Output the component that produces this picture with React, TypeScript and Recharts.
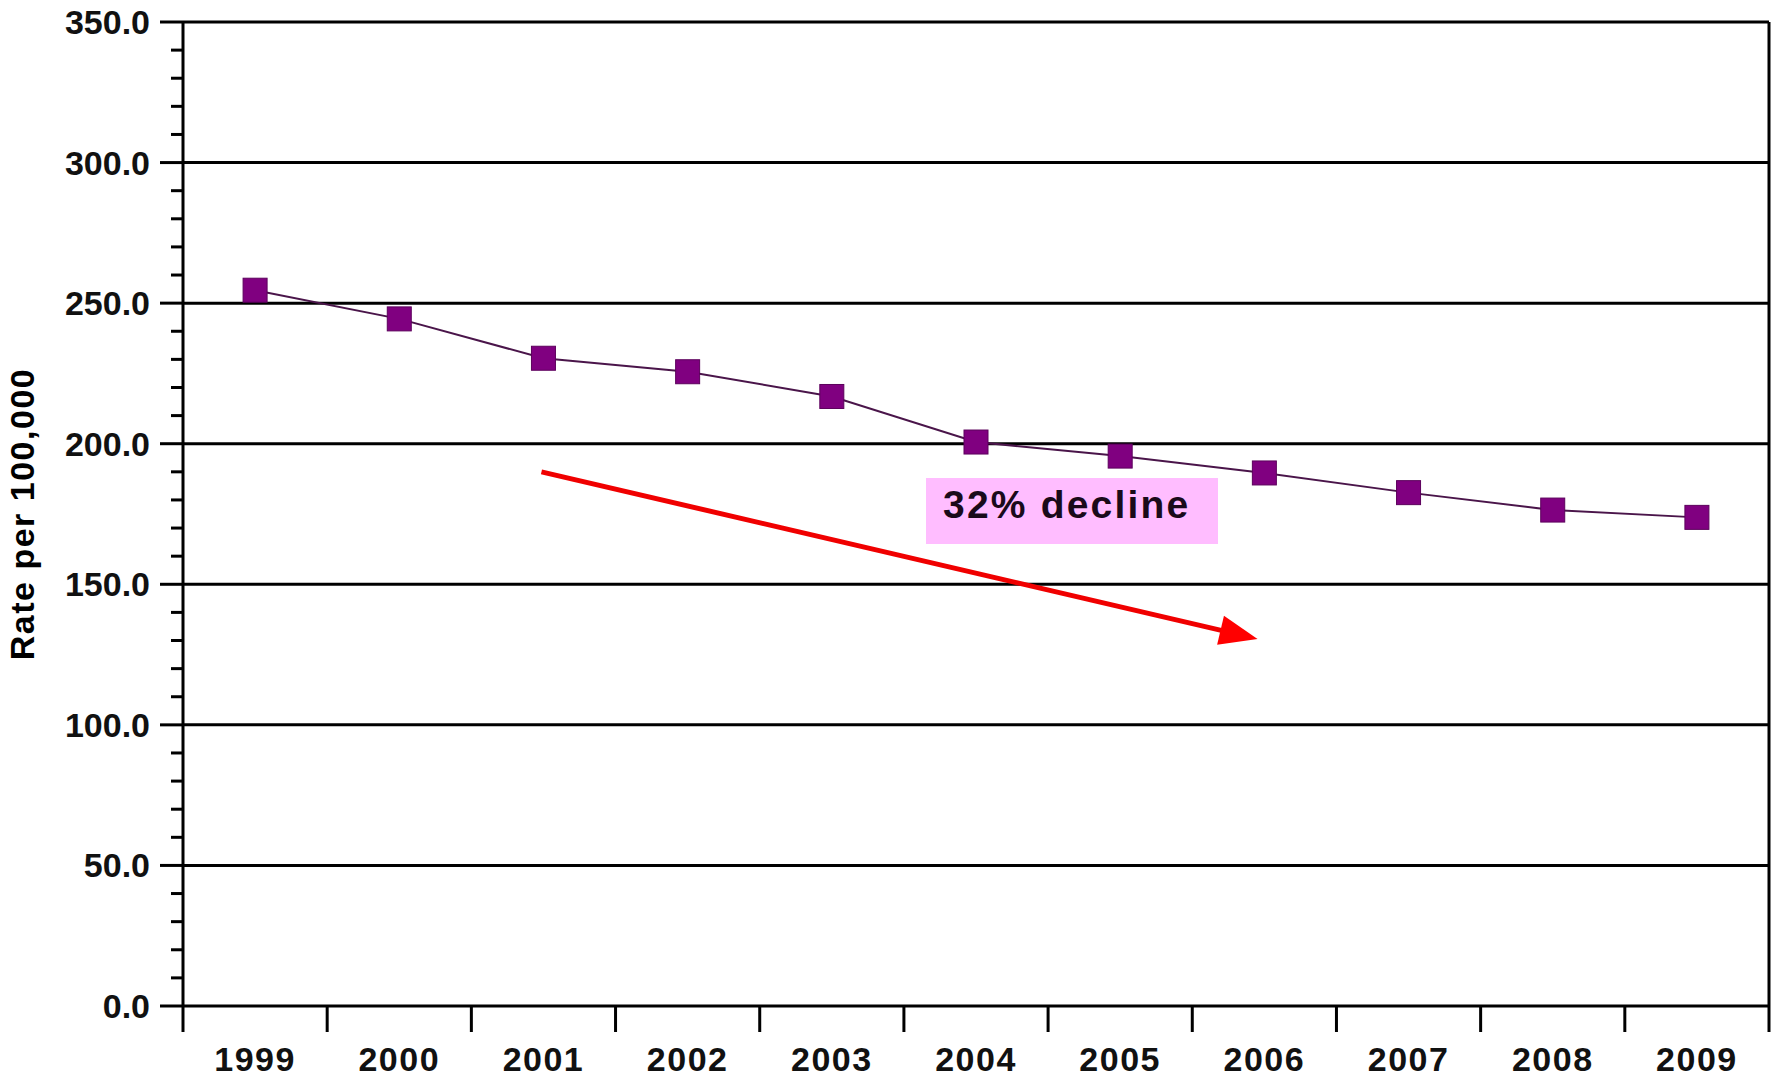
import { LineChart, Line, XAxis, YAxis, ReferenceLine } from "recharts";

const years = ["1999", "2000", "2001", "2002", "2003", "2004", "2005", "2006", "2007", "2008", "2009"];
const rates = [254.6, 244.4, 230.4, 225.6, 216.8, 200.6, 195.6, 189.6, 182.6, 176.4, 173.8];

const yTicks = [
  0, 10, 20, 30, 40, 50, 60, 70, 80, 90, 100, 110, 120, 130, 140, 150, 160, 170,
  180, 190, 200, 210, 220, 230, 240, 250, 260, 270, 280, 290, 300, 310, 320, 330,
  340, 350,
];
const gridValues = [50, 100, 150, 200, 250, 300, 350];

const arrowFrom = { x: "2001", y: 190 };
const arrowTo = { x: "2006", y: 130 };
const note = "32% decline";

const data = years.map((year, i) => ({ year, rate: rates[i] }));

const W = 1771;
const H = 1077;
const LEFT = 183;
const RIGHT = 2;
const TOP = 22;
const BOTTOM = 71;
const band = (W - LEFT - RIGHT) / years.length;
const font = "'Liberation Sans', Arial, sans-serif";

const YTick = (props: any) => {
  const { x, y, payload } = props;
  const major = payload.value % 50 === 0;
  return (
    <g>
      <line x1={x - (major ? 23 : 12)} x2={x} y1={y} y2={y} stroke="#000" strokeWidth={3} />
      {major && (
        <text x={x - 33} y={y} dy={12} textAnchor="end" fontSize={34} fontWeight="bold" fontFamily={font} fill="#111">
          {payload.value.toFixed(1)}
        </text>
      )}
    </g>
  );
};

const XTick = (props: any) => {
  const { x, y, payload, index } = props;
  const left = x - band / 2;
  return (
    <g>
      <line x1={left} x2={left} y1={y} y2={y + 26} stroke="#000" strokeWidth={3} />
      {index === years.length - 1 && (
        <line x1={left + band} x2={left + band} y1={y} y2={y + 26} stroke="#000" strokeWidth={3} />
      )}
      <text x={x} y={y + 65} textAnchor="middle" fontSize={34} letterSpacing={1.5} fontWeight="bold" fontFamily={font} fill="#111">
        {payload.value}
      </text>
    </g>
  );
};

const Square = (props: any) => {
  const { cx, cy, index } = props;
  if (cx == null || cy == null) return <g key={index} />;
  return <rect key={index} x={cx - 12} y={cy - 12} width={24} height={24} fill="#800080" stroke="#5c005c" strokeWidth={1} />;
};

const Arrow = (props: any) => {
  const { x1, y1, x2, y2 } = props;
  if (x1 == null) return <g />;
  const a = Math.atan2(y2 - y1, x2 - x1);
  const len = 38;
  const half = 15;
  const tx = x2 - 7 * Math.cos(a);
  const ty = y2 - 7 * Math.sin(a);
  const bx = tx - len * Math.cos(a);
  const by = ty - len * Math.sin(a);
  const px = -Math.sin(a) * half;
  const py = Math.cos(a) * half;
  return (
    <g>
      <line x1={x1 - 2} y1={y1} x2={bx + 4 * Math.cos(a)} y2={by + 4 * Math.sin(a)} stroke="#f00000" strokeWidth={5} />
      <polygon points={`${tx},${ty} ${bx + px},${by + py} ${bx - px},${by - py}`} fill="#ff0000" />
    </g>
  );
};

export default function App() {
  return (
    <div style={{ position: "absolute", left: 0, top: 0, width: W, height: H, background: "#fff" }}>
      <LineChart width={W} height={H} data={data} margin={{ top: TOP, right: RIGHT - 1, bottom: 0, left: 0 }}>
        <XAxis
          dataKey="year"
          scale="band"
          height={BOTTOM}
          interval={0}
          tickSize={0}
          tickMargin={0}
          tickLine={false}
          axisLine={{ stroke: "#000", strokeWidth: 3 }}
          tick={<XTick />}
        />
        <YAxis
          width={LEFT}
          domain={[0, 350]}
          ticks={yTicks}
          interval={0}
          tickSize={0}
          tickMargin={0}
          tickLine={false}
          axisLine={{ stroke: "#000", strokeWidth: 3 }}
          tick={<YTick />}
          label={{
            value: "Rate per 100,000",
            angle: -90,
            position: "insideLeft",
            offset: 0,
            dx: 22,
            style: { fontSize: 34, letterSpacing: 1.5, fontWeight: "bold", fontFamily: font, fill: "#000", textAnchor: "middle" },
          }}
        />
        <YAxis
          yAxisId="right"
          orientation="right"
          width={1}
          domain={[0, 350]}
          tick={false}
          tickLine={false}
          axisLine={{ stroke: "#000", strokeWidth: 3 }}
        />
        {gridValues.map((v) => (
          <ReferenceLine key={v} y={v} stroke="#000" strokeWidth={3} />
        ))}
        <ReferenceLine segment={[arrowFrom, arrowTo]} shape={<Arrow />} />
        <Line
          type="linear"
          dataKey="rate"
          stroke="#4a154a"
          strokeWidth={2}
          dot={<Square />}
          activeDot={false}
          isAnimationActive={false}
        />
      </LineChart>
      <div
        style={{
          position: "absolute",
          left: 926,
          top: 478,
          width: 292,
          height: 66,
          background: "#ffbdff",
          boxSizing: "border-box",
          paddingLeft: 17,
          paddingTop: 4,
          fontFamily: font,
          fontWeight: "bold",
          fontSize: 39,
          letterSpacing: 2.2,
          lineHeight: "46px",
          color: "#1a0a1a",
        }}
      >
        {note}
      </div>
    </div>
  );
}
